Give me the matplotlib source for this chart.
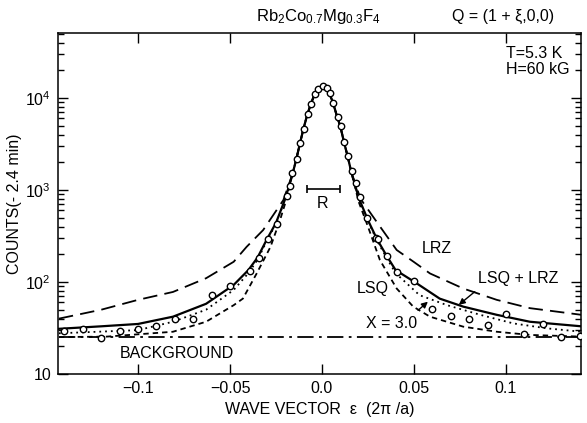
import matplotlib
matplotlib.use("Agg")
import matplotlib.pyplot as plt
from matplotlib.ticker import FixedLocator, LogLocator, NullFormatter, FixedFormatter

plt.rcParams['font.family'] = ['Liberation Sans', 'DejaVu Sans']
plt.rcParams['mathtext.default'] = 'regular'

# ---------------- data ----------------
eps_data = [-0.14, -0.13, -0.12, -0.11, -0.10, -0.09, -0.08, -0.07, -0.06, -0.05,
            -0.039, -0.034, -0.0295, -0.0246, -0.0192, -0.0174, -0.0161, -0.0138,
            -0.012, -0.0098, -0.0078, -0.006, -0.0038, -0.002, 0.0004, 0.0026,
            0.0043, 0.0062, 0.0085, 0.0103, 0.0121, 0.0143, 0.0165, 0.0185, 0.0207,
            0.0246, 0.0292, 0.0305, 0.0355, 0.0406, 0.0502, 0.06, 0.07, 0.08, 0.09,
            0.10, 0.11, 0.12, 0.13, 0.14]
counts_data = [29.3, 30.8, 24.6, 29.3, 30.8, 33.3, 39.6, 39.6, 72, 90.5,
               133, 181, 291, 430, 853, 1114, 1542, 2158,
               3268, 4603, 6698, 8603, 10970, 12530, 13500, 12740,
               11250, 8890, 6270, 4960, 3350, 2340, 1610, 1200, 845,
               492, 299, 293, 192, 130, 103, 50.9, 42.7, 39.6, 34.1,
               44.9, 27.2, 34.9, 25.3, 25.9]

# shared peak core of all fitted curves
core_eps = [-0.016, -0.014, -0.012, -0.010, -0.008, -0.006, -0.004, -0.002, 0.0,
            0.002, 0.004, 0.006, 0.008, 0.010, 0.012, 0.014, 0.016]
core_counts = [1500, 2150, 3200, 4700, 6600, 8700, 11000, 12800, 13400,
               12900, 11300, 8900, 6500, 4900, 3300, 2300, 1550]

# LSQ + LRZ (solid)
solid_left_eps = [-0.143, -0.12, -0.10, -0.081, -0.063, -0.048, -0.04, -0.035, -0.03, -0.025, -0.02]
solid_left = [31, 33, 35, 42, 58, 93, 135, 185, 290, 440, 800]
solid_right_eps = [0.02, 0.025, 0.03, 0.035, 0.04, 0.0514, 0.064, 0.0768, 0.095, 0.113, 0.141]
solid_right = [820, 470, 290, 195, 135, 97, 66, 54, 44, 37, 33]

# LRZ (long dash)
lrz_left_eps = [-0.143, -0.12, -0.10, -0.081, -0.063, -0.048, -0.041, -0.032, -0.021]
lrz_left = [40, 50, 64, 78, 110, 166, 241, 367, 778]
lrz_right_eps = [0.021, 0.0297, 0.0406, 0.05, 0.0587, 0.0768, 0.095, 0.113, 0.141]
lrz_right = [800, 452, 223, 165, 124, 85, 64, 52, 44]

# X = 3.0 (dotted)
x3_left_eps = [-0.143, -0.10, -0.081, -0.063, -0.048, -0.04, -0.035, -0.03, -0.025, -0.02]
x3_left = [27.7, 30, 37, 50, 82, 125, 175, 280, 430, 790]
x3_right_eps = [0.02, 0.025, 0.03, 0.035, 0.04, 0.053, 0.068, 0.086, 0.104, 0.122, 0.141]
x3_right = [810, 460, 280, 185, 125, 72, 56, 44, 35.5, 31.4, 28.8]

# LSQ (short dash)
lsq_left_eps = [-0.143, -0.117, -0.081, -0.063, -0.048, -0.043, -0.0355, -0.028, -0.0228, -0.02]
lsq_left = [25.2, 25.5, 28.8, 37, 56, 66, 124, 241, 472, 716]
lsq_right_eps = [0.02, 0.025, 0.0315, 0.0406, 0.0496, 0.0587, 0.0768, 0.095, 0.113, 0.141]
lsq_right = [740, 400, 173, 85, 54, 42, 32.7, 28.8, 26.6, 25.5]

# background
bg_eps = [-0.143, 0.141]
bg_counts = [25, 25]

# resolution bar
res_center = 0.0007
res_counts = 1025
res_halfwidth = 0.009

x_ticks = [-0.1, -0.05, 0.0, 0.05, 0.1]
x_ticklabels = ['\u22120.1', '\u22120.05', '0.0', '0.05', '0.1']
y_ticks = [10, 100, 1000, 10000]
y_ticklabels = ['10', '10$^2$', '10$^3$', '10$^4$']

# ---------------- figure ----------------
fig = plt.figure(figsize=(5.87, 4.23), dpi=100)
ax = fig.add_axes([58/587, 1-374/423, (581-58)/587, (374-33)/423])
ax.set_yscale('log')
ax.set_xlim(-0.1435, 0.1408)
ax.set_ylim(10, 5.1e4)

lw = 1.3
ax.plot(solid_left_eps + core_eps + solid_right_eps,
        solid_left + core_counts + solid_right, color='black', lw=1.6, ls='-')
ax.plot(lrz_left_eps + core_eps + lrz_right_eps,
        lrz_left + core_counts + lrz_right, color='black', lw=lw, ls=(0, (8, 4)))
ax.plot(x3_left_eps + core_eps + x3_right_eps,
        x3_left + core_counts + x3_right, color='black', lw=lw, ls=(0, (1, 2.2)))
ax.plot(lsq_left_eps + core_eps + lsq_right_eps,
        lsq_left + core_counts + lsq_right, color='black', lw=lw, ls=(0, (3, 2.2)))
ax.plot(bg_eps, bg_counts, color='black', lw=lw, ls=(0, (9, 3, 1.5, 3)))

ax.plot(eps_data, counts_data, ls='none', marker='o', ms=4.6,
        mfc='white', mec='black', mew=1.0, zorder=5)

ax.errorbar([res_center], [res_counts], xerr=[res_halfwidth], fmt='none',
            ecolor='black', elinewidth=1.2, capsize=3, capthick=1.2)

# ticks
ax.xaxis.set_major_locator(FixedLocator(x_ticks))
ax.xaxis.set_major_formatter(FixedFormatter(x_ticklabels))
ax.yaxis.set_major_locator(FixedLocator(y_ticks))
ax.yaxis.set_major_formatter(FixedFormatter(y_ticklabels))
ax.yaxis.set_minor_locator(LogLocator(base=10, subs=range(2, 10)))
ax.yaxis.set_minor_formatter(NullFormatter())
ax.tick_params(which='both', direction='in', top=True, right=True, width=1.0, color='black')
ax.tick_params(which='major', length=7)
ax.tick_params(which='minor', length=4.5)
ax.tick_params(axis='both', labelsize=11.5, pad=5)
for s in ax.spines.values():
    s.set_linewidth(1.1)

ax.set_xlabel('WAVE VECTOR  \u03b5  (2\u03c0 /a)', fontsize=11.5, labelpad=4)
ax.set_ylabel('COUNTS(- 2.4 min)', fontsize=11.5, labelpad=2)

# annotations
tkw = dict(fontsize=11.5, color='black')
ax.text(0.0005, 722, 'R', ha='center', va='center', **tkw)
ax.text(0.0625, 234, 'LRZ', ha='center', va='center', **tkw)
ax.text(0.1065, 108, 'LSQ + LRZ', ha='center', va='center', **tkw)
ax.text(0.0277, 86, 'LSQ', ha='center', va='center', **tkw)
ax.text(0.038, 35.8, 'X = 3.0', ha='center', va='center', **tkw)
ax.text(-0.0788, 16.5, 'BACKGROUND', ha='center', va='center', **tkw)
ax.annotate('', xy=(0.0732, 54), xytext=(0.0842, 82),
            arrowprops=dict(arrowstyle='-|>', color='black', lw=1.0, mutation_scale=9))
ax.annotate('', xy=(0.0587, 64), xytext=(0.0511, 47),
            arrowprops=dict(arrowstyle='-|>', color='black', lw=1.0, mutation_scale=9))

fig.text(318/587, 1-17/423, 'Rb$_2$Co$_{0.7}$Mg$_{0.3}$F$_4$', ha='center', va='center', fontsize=12)
fig.text(503/587, 1-16/423, 'Q = (1 + \u03be,0,0)', ha='center', va='center', fontsize=11.5)
fig.text(506/587, 1-53/423, 'T=5.3 K', ha='left', va='center', fontsize=11.5)
fig.text(506/587, 1-69/423, 'H=60 kG', ha='left', va='center', fontsize=11.5)

fig.savefig('out.png', dpi=100)
